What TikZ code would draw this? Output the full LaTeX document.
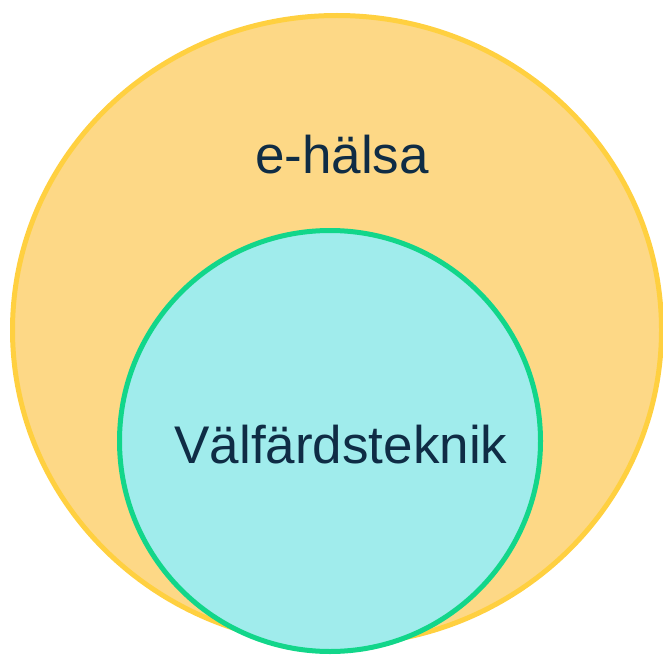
\documentclass[tikz,border=0pt]{standalone}
\usepackage{fontspec}
\setmainfont{Liberation Sans}
\usepackage{xcolor}
\usepackage{tikz}
\usetikzlibrary{positioning,shapes.geometric}

\definecolor{ehfill}{HTML}{FDD886}
\definecolor{ehline}{HTML}{FFD040}
\definecolor{vtfill}{HTML}{A0ECEC}
\definecolor{vtline}{HTML}{12D68A}
\definecolor{navy}{HTML}{0F2C45}

\begin{document}
\begin{tikzpicture}[
  x=1pt, y=-1pt,
  area/.style={draw=#1, line width=5pt, inner sep=0pt},
  lab/.style={font=\fontsize{53}{60}\selectfont, text=navy, inner sep=0pt}
]
\useasboundingbox (0,0) rectangle (663,655);

% Outer set
\node[area=ehline, fill=ehfill, ellipse, minimum width=649pt, minimum height=629pt]
     (ehalsa) at (337,330) {};
% Inner set
\node[area=vtline, fill=vtfill, circle, minimum size=421pt]
     (vtek) at (330,441) {};

% Labels
\node[lab] (ehlab) at (342,155) {e-hälsa};
\node[lab] (vtlab) at (341,445) {Välfärdsteknik};
\end{tikzpicture}
\end{document}
